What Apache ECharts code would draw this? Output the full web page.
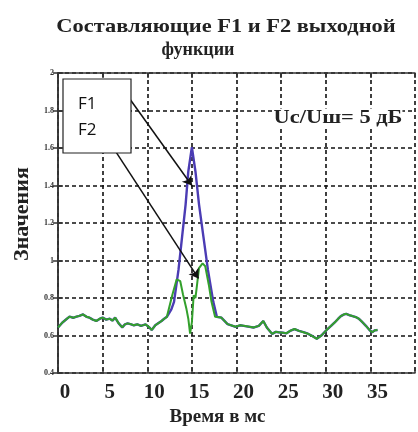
<!DOCTYPE html>
<html>
<head>
<meta charset="utf-8">
<script src="https://cdn.jsdelivr.net/npm/echarts@6/dist/echarts.min.js"></script>
<style>
	html, body { margin: 0; padding: 0; background: #fff; }
	#chart { width: 418px; height: 432px; }
</style>
</head>
<body>
<div id="chart"></div>
<script>
/* базовая линия слева от пика (общая для F1 и F2) */
const baseLeftTime = [0, 0.5, 1, 1.3, 1.7, 2, 2.4, 2.8, 3.2, 3.5, 3.9, 4.3, 4.7, 5, 5.4, 5.8, 6.1, 6.4, 6.8, 7.2, 7.5, 7.8, 8.2, 8.5, 8.9, 9.3, 9.8, 10.2, 10.5, 10.9, 11.3, 11.6, 11.9, 12.2, 12.4];
const baseLeftValue = [0.643, 0.67, 0.69, 0.701, 0.695, 0.7, 0.705, 0.713, 0.7, 0.696, 0.685, 0.678, 0.69, 0.696, 0.685, 0.69, 0.68, 0.696, 0.665, 0.644, 0.66, 0.665, 0.66, 0.655, 0.66, 0.652, 0.66, 0.645, 0.63, 0.655, 0.668, 0.678, 0.69, 0.7, 0.71];
/* пик F1 */
const f1PeakTime = [12.7, 13, 13.5, 13.9, 14.3, 14.6, 15, 15.4, 15.8, 16.3, 16.8, 17.4, 17.8];
const f1PeakValue = [0.74, 0.78, 0.95, 1.125, 1.3, 1.475, 1.605, 1.475, 1.3, 1.125, 0.95, 0.78, 0.7];
/* пик F2 */
const f2PeakTime = [12.8, 13.3, 13.7, 14, 14.4, 14.6, 14.8, 15, 15.2, 15.4, 15.6, 15.8, 16.2, 16.5, 16.9, 17.2, 17.6];
const f2PeakValue = [0.815, 0.9, 0.89, 0.82, 0.74, 0.69, 0.61, 0.67, 0.815, 0.8, 0.88, 0.96, 0.985, 0.97, 0.87, 0.78, 0.7];
/* базовая линия справа от пика */
const baseRightTime = [18.3, 19, 19.9, 20.4, 20.8, 21.3, 21.9, 22.5, 23, 23.4, 24, 24.4, 24.7, 25.2, 25.6, 26, 26.5, 27, 27.5, 28, 28.4, 29, 29.5, 29.9, 30.2, 30.6, 31, 31.4, 31.7, 32, 32.3, 32.7, 33, 33.4, 33.7, 34.1, 34.5, 34.9, 35.2, 35.5, 35.8];
const baseRightValue = [0.696, 0.661, 0.647, 0.655, 0.652, 0.648, 0.643, 0.652, 0.678, 0.643, 0.609, 0.62, 0.618, 0.615, 0.612, 0.625, 0.635, 0.625, 0.618, 0.61, 0.6, 0.583, 0.6, 0.62, 0.635, 0.652, 0.67, 0.69, 0.704, 0.712, 0.716, 0.708, 0.704, 0.698, 0.69, 0.672, 0.652, 0.63, 0.618, 0.628, 0.63];

const xTicks = [0, 5, 10, 15, 20, 25, 30, 35];
const yTickLabels = ['0.4', '0.6', '0.8', '1', '1.2', '1.4', '1.6', '1.8', '2'];

const zip = (t, v) => t.map((x, i) => [x, v[i]]);
const f1Data = [...zip(baseLeftTime, baseLeftValue), ...zip(f1PeakTime, f1PeakValue), ...zip(baseRightTime, baseRightValue)];
const f2Data = [...zip(baseLeftTime, baseLeftValue), ...zip(f2PeakTime, f2PeakValue), ...zip(baseRightTime, baseRightValue)];

const serif = '"Liberation Serif", "DejaVu Serif", serif';
const frame = { show: true, lineStyle: { color: '#333', width: 1.5 } };
const dashed = { show: true, lineStyle: { color: '#111', width: 1.6, type: [4, 3] } };

const chart = echarts.init(document.getElementById('chart'));
chart.setOption({
	animation: false,
	backgroundColor: '#fff',
	grid: { left: 58, right: 2, top: 73, bottom: 53 },
	xAxis: [
		{
			type: 'value', min: 0, max: 40, interval: 5,
			axisLine: frame,
			axisTick: { inside: true, length: 5, lineStyle: { color: '#333', width: 1.5 } },
			splitLine: dashed,
			axisLabel: {
				margin: 9, fontFamily: serif, fontWeight: 'bold', fontSize: 21, color: '#222',
				padding: [0, 0, 0, 14],
				formatter: v => (xTicks.includes(v) ? String(v) : '')
			},
			name: 'Время в мс', nameLocation: 'middle', nameGap: 32,
			nameTextStyle: { fontFamily: serif, fontWeight: 'bold', fontSize: 19, color: '#222', padding: [0, 38, 0, 0] }
		},
		{
			type: 'value', position: 'top', min: 0, max: 40, interval: 5,
			axisLine: frame,
			axisTick: { inside: true, length: 5, lineStyle: { color: '#333', width: 1.5 } },
			axisLabel: { show: false }, splitLine: { show: false }
		}
	],
	yAxis: [
		{
			type: 'value', min: 0.4, max: 2, interval: 0.2,
			axisLine: frame,
			axisTick: { inside: true, length: 5, lineStyle: { color: '#333', width: 1.5 } },
			splitLine: dashed,
			axisLabel: {
				margin: 4, fontFamily: serif, fontWeight: 'bold', fontSize: 8, color: '#333',
				formatter: v => yTickLabels[Math.round((v - 0.4) / 0.2)]
			},
			name: 'Значения', nameLocation: 'middle', nameGap: 24, nameRotate: 90,
			nameTextStyle: { fontFamily: serif, fontWeight: 'bold', fontSize: 22, color: '#222', padding: [0, 0, 0, 18] }
		},
		{
			type: 'value', position: 'right', min: 0.4, max: 2, interval: 0.2,
			axisLine: frame,
			axisTick: { inside: true, length: 5, lineStyle: { color: '#333', width: 1.5 } },
			axisLabel: { show: false }, splitLine: { show: false }
		}
	],
	series: [
		{
			name: 'F1', type: 'line', data: f1Data, showSymbol: false, z: 2,
			lineStyle: { color: '#4b3cb4', width: 2.4 }
		},
		{
			name: 'F2', type: 'line', data: f2Data, showSymbol: false, z: 3,
			lineStyle: { color: '#33a02c', width: 2 },
			markLine: {
				silent: true,
				symbol: ['none', 'arrow'],
				symbolSize: 9,
				label: { show: false },
				lineStyle: { color: '#111', width: 1.5, type: 'solid' },
				data: [
					[{ coord: [7.97, 1.867] }, { coord: [15, 1.4] }],
					[{ coord: [6.49, 1.579] }, { coord: [15.74, 0.905] }]
				]
			}
		}
	],
	graphic: [
		{
			type: 'text', x: 226, y: 27, z: 10, scaleX: 1.18,
			style: { text: 'Составляющие F1 и F2 выходной', font: 'bold 19px ' + serif, fill: '#222', align: 'center', verticalAlign: 'middle' }
		},
		{
			type: 'text', x: 198, y: 50, z: 10,
			style: { text: 'функции', font: 'bold 18px ' + serif, fill: '#222', align: 'center', verticalAlign: 'middle' }
		},
		{
			type: 'rect', z: 10,
			shape: { x: 63, y: 79, width: 68, height: 74 },
			style: { fill: '#fff', stroke: '#222', lineWidth: 1.2 }
		},
		{
			type: 'text', x: 78, y: 104, z: 11,
			style: { text: 'F1', font: '17px "Open Sans", sans-serif', fill: '#111', verticalAlign: 'middle' }
		},
		{
			type: 'text', x: 78, y: 130, z: 11,
			style: { text: 'F2', font: '17px "Open Sans", sans-serif', fill: '#111', verticalAlign: 'middle' }
		},
		{
			type: 'text', x: 338, y: 118, z: 10, scaleX: 1.18,
			style: { text: 'Uc/Uш= 5 дБ', font: 'bold 19px ' + serif, fill: '#222', align: 'center', verticalAlign: 'middle', backgroundColor: '#fff' }
		}
	]
});
</script>
</body>
</html>
